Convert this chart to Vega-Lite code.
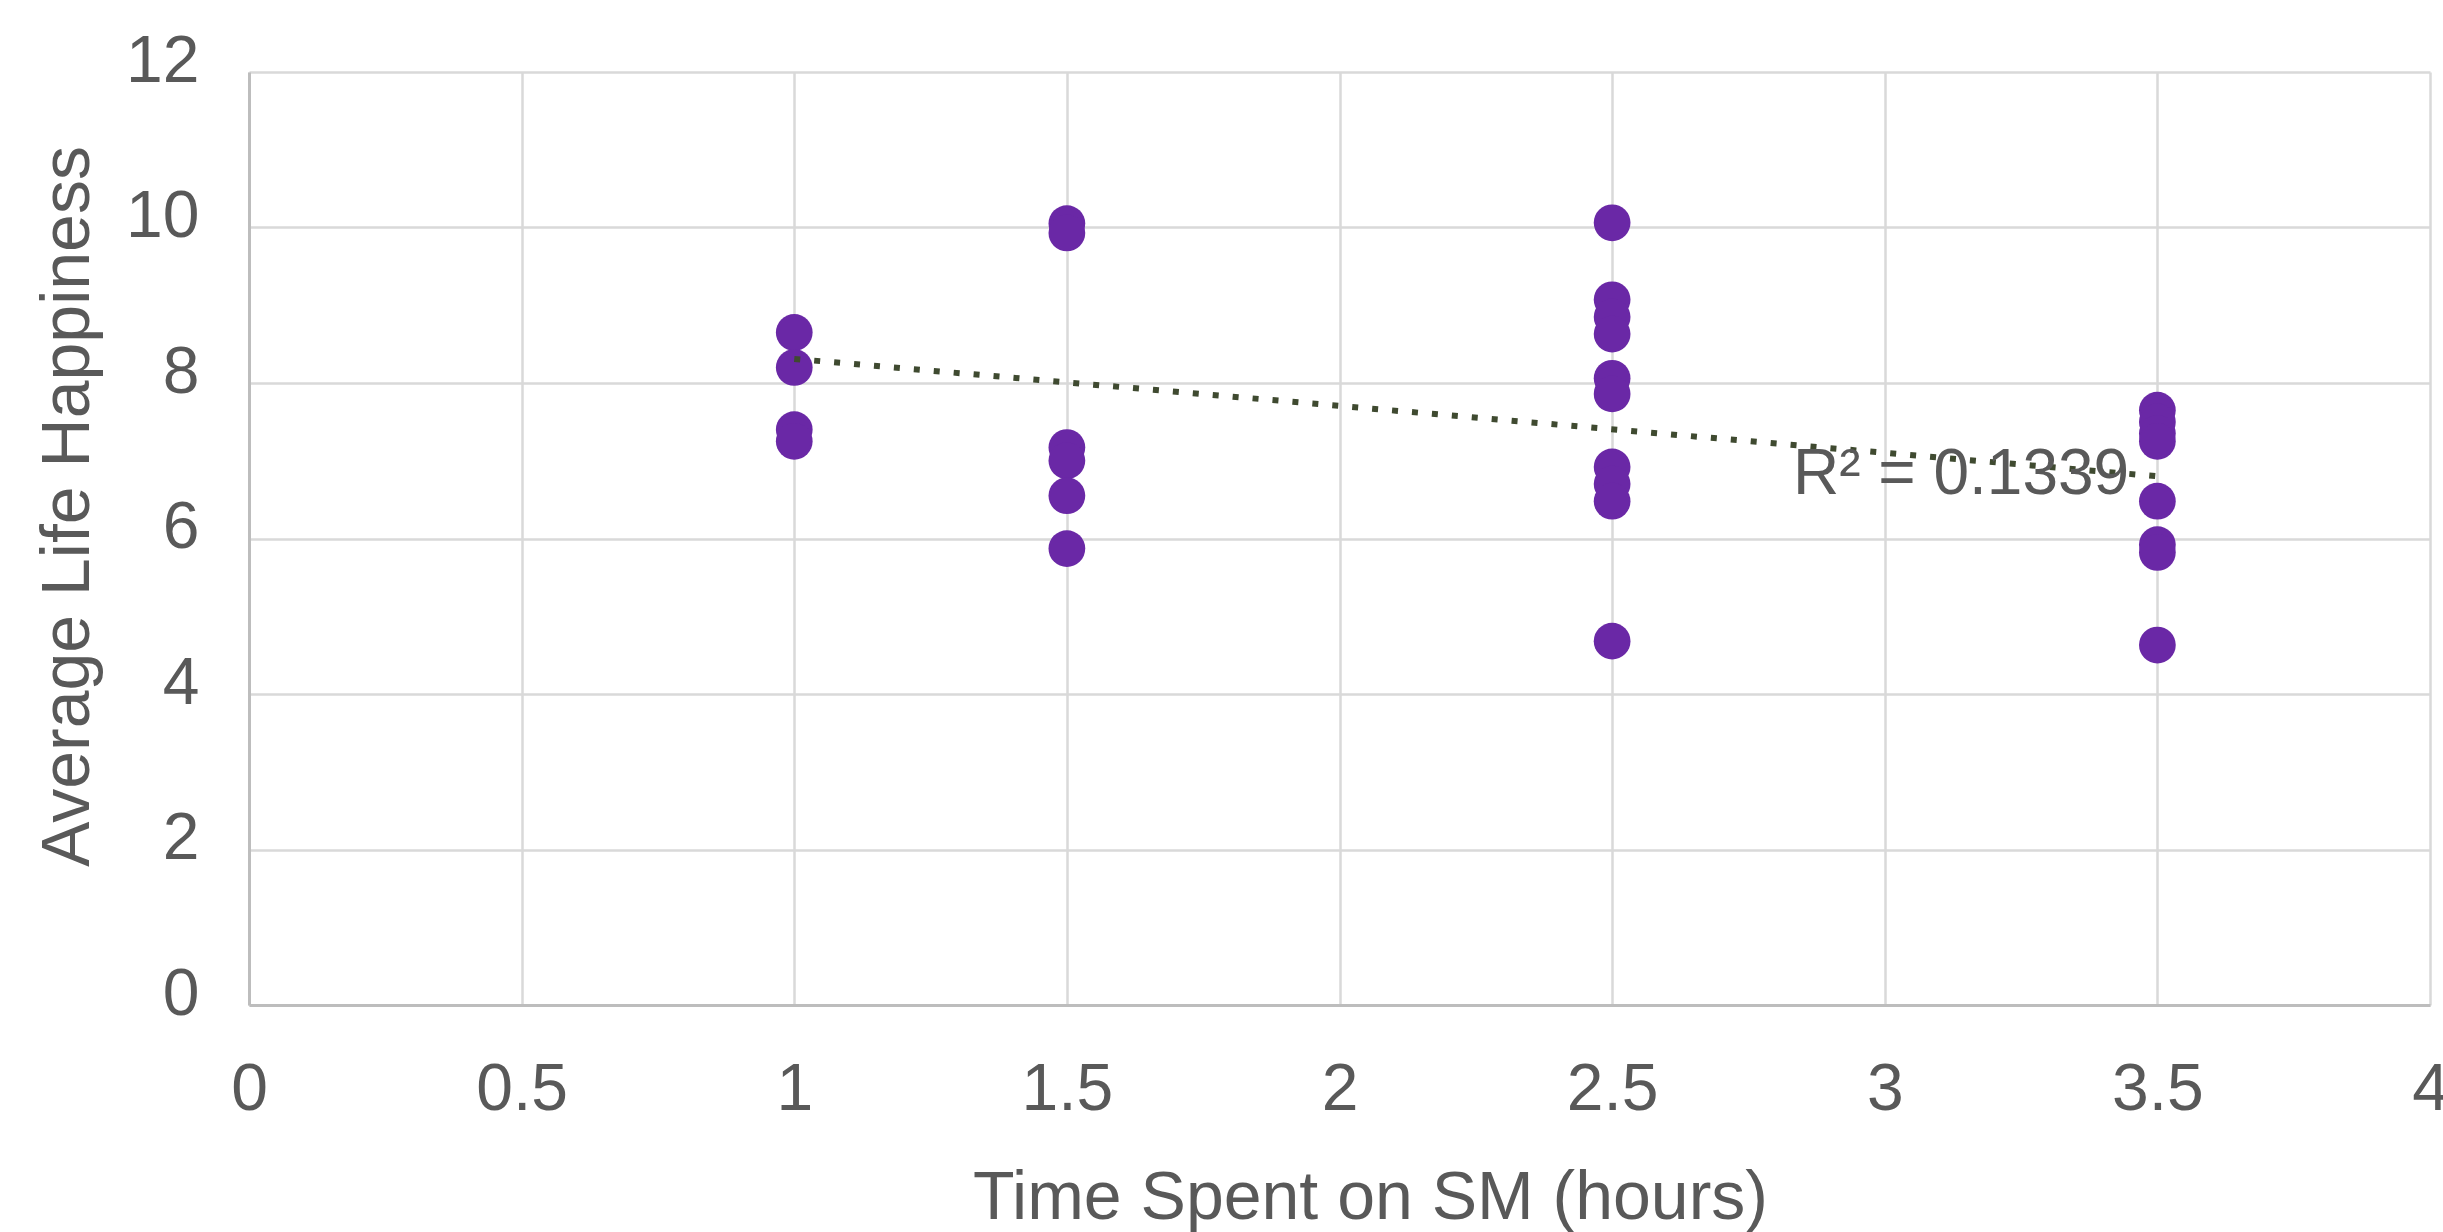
{
  "$schema": "https://vega.github.io/schema/vega-lite/v6.json",
  "width": 2181,
  "height": 933,
  "autosize": "none",
  "padding": {"left": 249, "top": 72, "right": 13, "bottom": 227},
  "background": "white",
  "config": {
    "view": {"stroke": null},
    "font": "Liberation Sans"
  },
  "datasets": {
    "points": [
      {"hours": 1, "happiness": 8.65},
      {"hours": 1, "happiness": 8.2},
      {"hours": 1, "happiness": 7.4},
      {"hours": 1, "happiness": 7.25},
      {"hours": 1.5, "happiness": 10.05},
      {"hours": 1.5, "happiness": 9.93},
      {"hours": 1.5, "happiness": 7.17},
      {"hours": 1.5, "happiness": 7.0},
      {"hours": 1.5, "happiness": 6.55},
      {"hours": 1.5, "happiness": 5.87},
      {"hours": 2.5, "happiness": 10.06},
      {"hours": 2.5, "happiness": 9.07},
      {"hours": 2.5, "happiness": 8.85},
      {"hours": 2.5, "happiness": 8.63},
      {"hours": 2.5, "happiness": 8.06},
      {"hours": 2.5, "happiness": 7.86},
      {"hours": 2.5, "happiness": 6.92},
      {"hours": 2.5, "happiness": 6.7},
      {"hours": 2.5, "happiness": 6.48},
      {"hours": 2.5, "happiness": 4.68},
      {"hours": 3.5, "happiness": 7.65},
      {"hours": 3.5, "happiness": 7.5},
      {"hours": 3.5, "happiness": 7.35},
      {"hours": 3.5, "happiness": 7.25},
      {"hours": 3.5, "happiness": 6.48},
      {"hours": 3.5, "happiness": 5.92},
      {"hours": 3.5, "happiness": 5.82},
      {"hours": 3.5, "happiness": 4.63}
    ],
    "trend": [
      {"hours": 1, "happiness": 8.31},
      {"hours": 3.5, "happiness": 6.8}
    ],
    "label": [
      {"hours": 3.14, "happiness": 6.82, "text": "R² = 0.1339"}
    ]
  },
  "layer": [
    {
      "data": {"name": "points"},
      "mark": {"type": "point", "shape": "circle", "filled": true, "size": 1350, "color": "#6a28a6", "opacity": 1},
      "encoding": {
        "x": {
          "field": "hours", "type": "quantitative",
          "scale": {"domain": [0, 4], "nice": false, "zero": true},
          "axis": {
            "title": "Time Spent on SM (hours)",
            "values": [0, 0.5, 1, 1.5, 2, 2.5, 3, 3.5, 4],
            "format": "~g",
            "labelFontSize": 66,
            "labelColor": "#595959",
            "labelPadding": 52,
            "labelBaseline": "top",
            "labelFlush": false,
            "labelOverlap": false,
            "ticks": false,
            "domainColor": "#bdbdbd",
            "domainWidth": 3,
            "gridColor": "#d9d9d9",
            "gridWidth": 2.5,
            "titleFontSize": 68,
            "titleFontWeight": "normal",
            "titleColor": "#595959",
            "titleX": 1121,
            "titleY": 213,
            "titleBaseline": "alphabetic",
            "titleAlign": "center"
          }
        },
        "y": {
          "field": "happiness", "type": "quantitative",
          "scale": {"domain": [0, 12], "nice": false},
          "axis": {
            "title": "Average Life Happiness",
            "values": [0, 2, 4, 6, 8, 10, 12],
            "format": "~g",
            "labelFontSize": 66,
            "labelColor": "#595959",
            "labelPadding": 50,
            "labelOffset": -11,
            "labelFlush": false,
            "labelOverlap": false,
            "ticks": false,
            "domainColor": "#bdbdbd",
            "domainWidth": 3,
            "gridColor": "#d9d9d9",
            "gridWidth": 2.5,
            "titleFontSize": 68,
            "titleFontWeight": "normal",
            "titleColor": "#595959",
            "titleAngle": -90,
            "titleX": -161,
            "titleY": 434,
            "titleBaseline": "alphabetic",
            "titleAlign": "center"
          }
        }
      }
    },
    {
      "data": {"name": "trend"},
      "mark": {"type": "line", "color": "#3f4a30", "strokeWidth": 6, "strokeDash": [6, 14], "strokeCap": "butt"},
      "encoding": {
        "x": {"field": "hours", "type": "quantitative"},
        "y": {"field": "happiness", "type": "quantitative"}
      }
    },
    {
      "data": {"name": "label"},
      "mark": {"type": "text", "fontSize": 64, "color": "#595959", "align": "center", "baseline": "middle"},
      "encoding": {
        "x": {"field": "hours", "type": "quantitative"},
        "y": {"field": "happiness", "type": "quantitative"},
        "text": {"field": "text"}
      }
    }
  ]
}
